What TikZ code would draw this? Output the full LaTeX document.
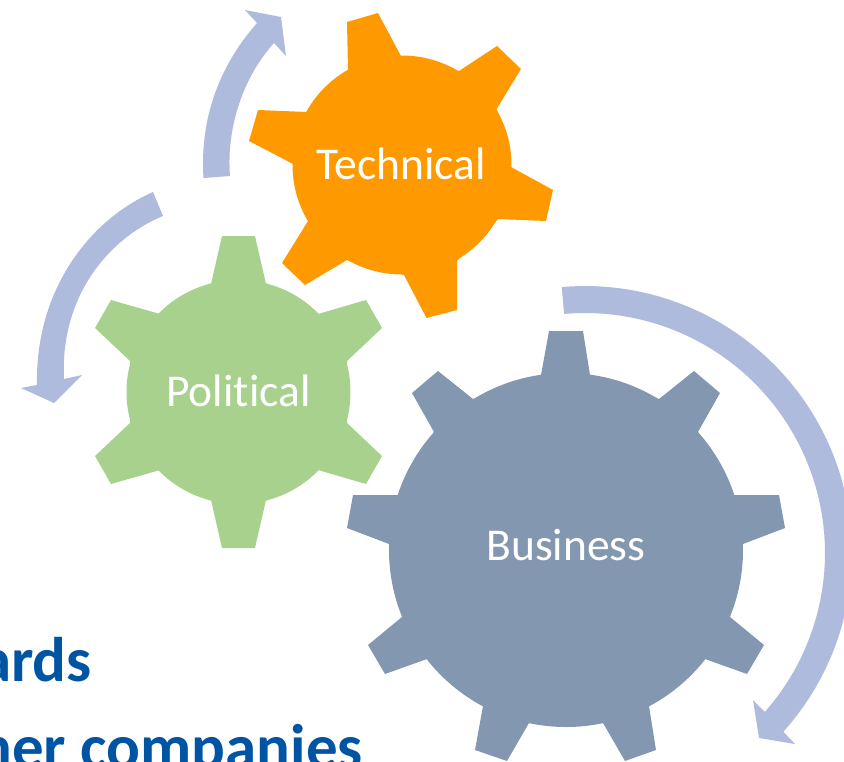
\documentclass[tikz,border=0pt]{standalone}
\usepackage{fontspec}
\setmainfont{Carlito}[Ligatures=NoCommon]
\definecolor{orangegear}{HTML}{FF9900}
\definecolor{greengear}{HTML}{A9D18E}
\definecolor{bluegear}{HTML}{8497B0}
\definecolor{arrowblue}{HTML}{AFBBDD}
\definecolor{headtext}{HTML}{0054A4}
\tikzset{
  gearlabel/.style={text=white,font=\fontsize{45.5}{50}\selectfont,inner sep=0pt},
  bigtext/.style={text=headtext,font=\fontsize{63}{70}\selectfont\bfseries,inner sep=0pt,anchor=base east},
  arrowshape/.style={fill=arrowblue,draw=none}
}
\begin{document}
\begin{tikzpicture}[x=1pt,y=-1pt]
\useasboundingbox (0,0) rectangle (844,761);
\clip (0,0) rectangle (844,761);
% Arrows
\fill[arrowshape] (203.5,178) .. controls (199,110) and (226,58) .. (257,23)
  -- (245,10) -- (281,17) -- (286,56) -- (274,43)
  .. controls (245,75) and (226,125) .. (230,176) -- cycle;
\fill[arrowshape] (153,192) .. controls (85,222) and (35,295) .. (37,385)
  -- (21,388) -- (54,403) -- (82,375) -- (64,379)
  .. controls (60,300) and (105,240) .. (163,216) -- cycle;
\fill[arrowshape] plot[domain=95:-42,samples=60] ({585+267*cos(\x)},{553-267*sin(\x)})
  -- (795,744) -- (759,738) -- (753,700) -- (765,712)
  -- plot[domain=-41.5:95,samples=60] ({585+240*cos(\x)},{553-240*sin(\x)}) -- cycle;
% Technical gear
\fill[orangegear] (402,165) circle[radius=109.5];
\fill[orangegear] (347,22) -- (378,13) -- (401,56) -- (459,71) -- (497,46) -- (521,69) -- (496,110)
  -- (511,167) -- (553,190) -- (546,221) -- (498,219) -- (457,261) -- (457,310) -- (426.5,318)
  -- (404,275) -- (347,260) -- (305,285) -- (282,263) -- (308,221) -- (293,164) -- (249,141)
  -- (258,110) -- (307,112) -- (348,70) -- cycle;
% Political gear
\fill[greengear] (238.5,392) circle[radius=112];
\fill[greengear] (222,236) -- (255,236) -- (266,284) -- (318,314) -- (366,300) -- (382,328)
  -- (347,361) -- (347,423) -- (382,456) -- (366,484) -- (318,470) -- (266,500) -- (255,548)
  -- (222,548) -- (211,500) -- (160,470) -- (111,484) -- (95,456) -- (130,423) -- (130,361)
  -- (95,328) -- (111,300) -- (160,314) -- (211,284) -- cycle;
% Business gear
\fill[bluegear] (566,550) circle[radius=177];
\fill[bluegear] (549,331) -- (583,331) -- (590,375) -- (659,399) -- (694,371) -- (720,393)
  -- (698,432) -- (734,495) -- (779,495) -- (785,528) -- (743,544) -- (730,617) -- (764,645)
  -- (747,674) -- (705,659) -- (649,706) -- (656,750) -- (625,761) -- (603,723) -- (529,723)
  -- (507,761) -- (475,750) -- (483,706) -- (427,659) -- (385,674) -- (368,645) -- (402,617)
  -- (389,544) -- (347,528) -- (353,495) -- (398,495) -- (434,432) -- (412,393) -- (438,371)
  -- (473,399) -- (541,375) -- cycle;
% Labels
\node[gearlabel] (tech) at (401,164) {Technical};
\node[gearlabel] (pol) at (238.5,391) {Political};
\node[gearlabel] (bus) at (566,545) {Business};
\node[bigtext] (line1) at (92,681) {ards};
\node[bigtext] (line2) at (363,768) {her companies};
\end{tikzpicture}
\end{document}
